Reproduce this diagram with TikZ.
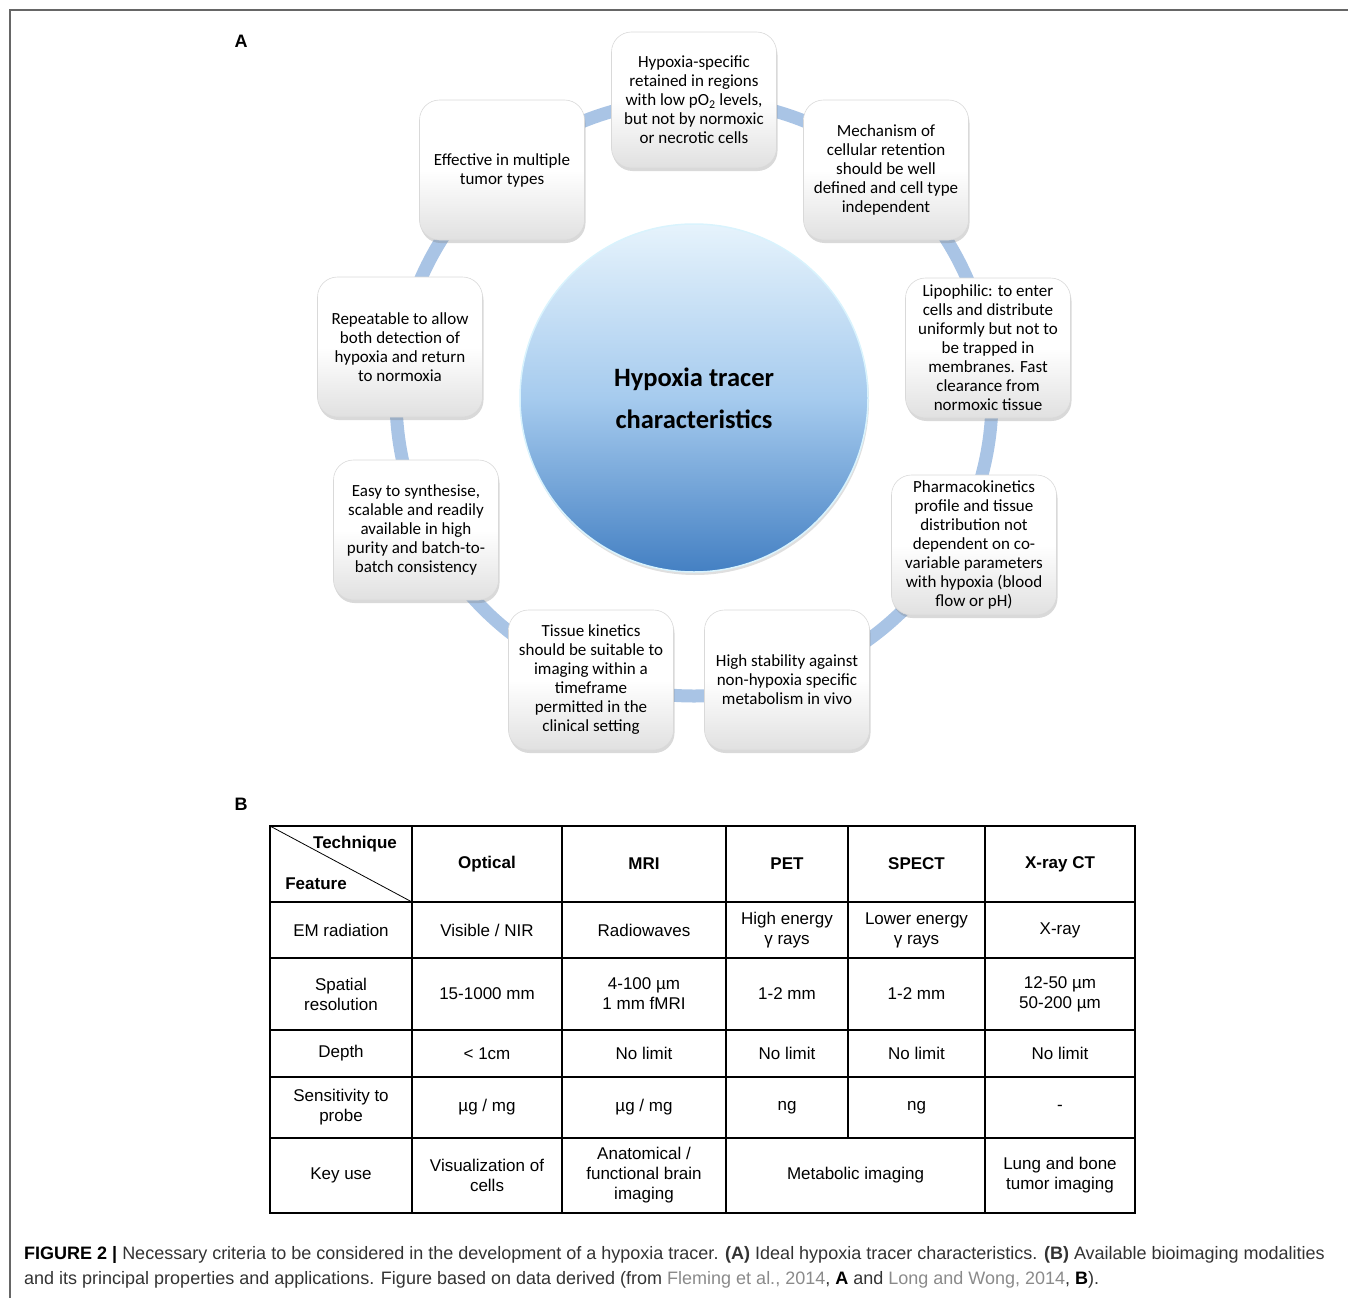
\documentclass[tikz,border=0pt]{standalone}
\usepackage{fontspec}
\setmainfont{Carlito}
\newfontfamily\arialf{Liberation Sans}
\newfontfamily\capf{Liberation Sans}
\usetikzlibrary{shadows}
\definecolor{ringc}{HTML}{A9C4E5}
\definecolor{ctop}{HTML}{E6F3FC}
\definecolor{cmid}{HTML}{A6CBEE}
\definecolor{cbot}{HTML}{4480C3}
\definecolor{capgray}{HTML}{333333}
\definecolor{citegray}{HTML}{8A8A8A}
\definecolor{framec}{HTML}{666666}
\tikzset{
  tbox/.style={rounded corners=20pt, minimum width=165pt, minimum height=140pt,
    draw=gray!30, line width=0.6pt, top color=white, bottom color=gray!24, middle color=white,
    drop shadow={opacity=0.3, shadow xshift=1pt, shadow yshift=-3pt},
    align=center, inner sep=2pt, font=\fontsize{17}{19}\selectfont},
  cell/.style={align=center, inner sep=0pt, font=\arialf\fontsize{17}{20}\selectfont},
  hcell/.style={cell, font=\arialf\bfseries\fontsize{17}{20}\selectfont},
  grid/.style={line width=2pt, black},
  plabel/.style={font=\arialf\bfseries\fontsize{18}{18}\selectfont, inner sep=0pt},
  capline/.style={anchor=west, inner sep=0pt, text=capgray, font=\capf\fontsize{18}{22}\selectfont}
}
\begin{document}
\begin{tikzpicture}[x=1pt,y=1pt]
\useasboundingbox (0,0) rectangle (1348,-1298);
% frame
\draw[framec, line width=2pt] (10,-1298) -- (10,-10) -- (1348,-10);
% panel labels
\node[plabel] (lA) at (241,-41) {A};
\node[plabel] (lB) at (241,-804) {B};

% ---------- Panel A ----------
\coordinate (ctr) at (694,-398);
\draw[ringc, line width=13pt] (ctr) circle (298);
\node[circle, minimum size=348pt, inner sep=0pt, top color=ctop, bottom color=cbot, middle color=cmid,
  draw=white!85!cyan, line width=1.5pt, drop shadow={opacity=0.25, shadow xshift=1pt, shadow yshift=-3pt},
  align=center, font=\bfseries\fontsize{26.5}{42}\selectfont] (core) at (ctr) {Hypoxia tracer\\characteristics};

\node[tbox, minimum height=136pt] (b1) at (694,-100) {Hypoxia-specific\\retained in regions\\with low pO\textsubscript{2} levels,\\but not by normoxic\\or necrotic cells};
\node[tbox] (b2) at (886,-170) {Mechanism of\\cellular retention\\should be well\\defined and cell type\\independent};
\node[tbox] (b3) at (988,-348) {Lipophilic: to enter\\cells and distribute\\uniformly but not to\\be trapped in\\membranes. Fast\\clearance from\\normoxic tissue};
\node[tbox] (b4) at (974,-545) {Pharmacokinetics\\profile and tissue\\distribution not\\dependent on co-\\variable parameters\\with hypoxia (blood\\flow or pH)};
\node[tbox] (b5) at (787,-680) {High stability against\\non-hypoxia specific\\metabolism in vivo};
\node[tbox] (b6) at (591,-680) {Tissue kinetics\\should be suitable to\\imaging within a\\timeframe\\permitted in the\\clinical setting};
\node[tbox] (b7) at (416,-530) {Easy to synthesise,\\scalable and readily\\available in high\\purity and batch-to-\\batch consistency};
\node[tbox] (b8) at (400,-347) {Repeatable to allow\\both detection of\\hypoxia and return\\to normoxia};
\node[tbox] (b9) at (502,-170) {Effective in multiple\\tumor types};

% ---------- Panel B ----------
% grid
\draw[grid] (270,-826) rectangle (1135,-1213);
\foreach \yy in {902,958,1030,1077,1138} \draw[grid] (270,-\yy) -- (1135,-\yy);
\foreach \xx in {412,562,726,985} \draw[grid] (\xx,-826) -- (\xx,-1213);
\draw[grid] (848,-826) -- (848,-1138);
\draw[line width=0.8pt] (270,-826) -- (412,-902);

\node[hcell] (hT) at (355,-844) {Technique};
\node[hcell] (hF) at (316,-884) {Feature};
\node[hcell] (h1) at (487,-864) {Optical};
\node[hcell] (h2) at (644,-864) {MRI};
\node[hcell] (h3) at (787,-864) {PET};
\node[hcell] (h4) at (916.5,-864) {SPECT};
\node[hcell] (h5) at (1060,-864) {X-ray CT};

\node[cell] (r1) at (341,-930) {EM radiation};
\node[cell] (c11) at (487,-930) {Visible / NIR};
\node[cell] (c12) at (644,-930) {Radiowaves};
\node[cell] (c13) at (787,-930) {High energy\\γ rays};
\node[cell] (c14) at (916.5,-930) {Lower energy\\γ rays};
\node[cell] (c15) at (1060,-930) {X-ray};

\node[cell] (r2) at (341,-994) {Spatial\\resolution};
\node[cell] (c21) at (487,-994) {15-1000 mm};
\node[cell] (c22) at (644,-994) {4-100 µm\\1 mm fMRI};
\node[cell] (c23) at (787,-994) {1-2 mm};
\node[cell] (c24) at (916.5,-994) {1-2 mm};
\node[cell] (c25) at (1060,-994) {12-50 µm\\50-200 µm};

\node[cell] (r3) at (341,-1053.5) {Depth};
\node[cell] (c31) at (487,-1053.5) {< 1cm};
\node[cell] (c32) at (644,-1053.5) {No limit};
\node[cell] (c33) at (787,-1053.5) {No limit};
\node[cell] (c34) at (916.5,-1053.5) {No limit};
\node[cell] (c35) at (1060,-1053.5) {No limit};

\node[cell] (r4) at (341,-1107.5) {Sensitivity to\\probe};
\node[cell] (c41) at (487,-1107.5) {µg / mg};
\node[cell] (c42) at (644,-1107.5) {µg / mg};
\node[cell] (c43) at (787,-1107.5) {ng};
\node[cell] (c44) at (916.5,-1107.5) {ng};
\node[cell] (c45) at (1060,-1107.5) {-};

\node[cell] (r5) at (341,-1175.5) {Key use};
\node[cell] (c51) at (487,-1175.5) {Visualization of\\cells};
\node[cell] (c52) at (644,-1175.5) {Anatomical /\\functional brain\\imaging};
\node[cell] (c53) at (855.5,-1175.5) {Metabolic imaging};
\node[cell] (c55) at (1060,-1175.5) {Lung and bone\\tumor imaging};

% ---------- caption ----------
\node[capline] (cap1) at (24,-1255) {\textbf{\color{black}FIGURE 2 |} Necessary criteria to be considered in the development of a hypoxia tracer. \textbf{(A)} Ideal hypoxia tracer characteristics. \textbf{(B)} Available bioimaging modalities};
\node[capline] (cap2) at (24,-1280) {and its principal properties and applications. Figure based on data derived (from {\color{citegray}Fleming et al., 2014}, \textbf{\color{black}A} and {\color{citegray}Long and Wong, 2014}, \textbf{\color{black}B}).};
\end{tikzpicture}
\end{document}
